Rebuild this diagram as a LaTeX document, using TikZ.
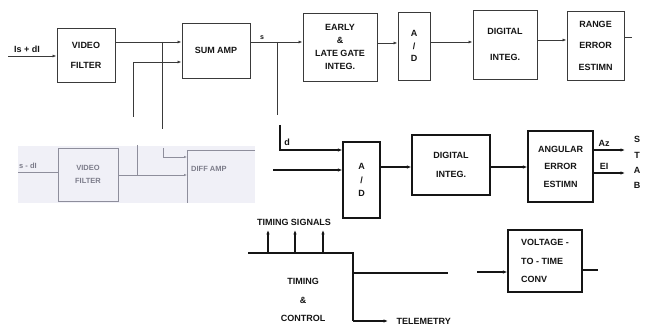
\documentclass[tikz,border=0pt]{standalone}
\usepackage{fontspec}
\setmainfont{Liberation Sans}
\usetikzlibrary{arrows.meta,positioning}
\definecolor{ink}{HTML}{3A3A3A}
\definecolor{inkdark}{HTML}{151515}
\definecolor{ghostline}{HTML}{8E8E9C}
\definecolor{ghosttext}{HTML}{7C7C8A}
\definecolor{ghostbg}{HTML}{F0F0F7}
\tikzset{
  blkbox/.style={
    rectangle, draw=ink, line width=0.9pt, align=center,
    inner sep=1pt, text=inkdark,
    font=\bfseries\fontsize{9}{#1}\selectfont
  },
  blkbox/.default=11,
  darkbox/.style={blkbox=#1, draw=inkdark, line width=1.2pt},
  darkbox/.default=11,
  sigline/.style={draw=ink, line width=0.9pt},
  sigarrow/.style={sigline, -{Latex[length=4pt,width=3pt]}},
  darkline/.style={draw=inkdark, line width=1.2pt},
  darkarrow/.style={darkline, -{Latex[length=4.5pt,width=3.5pt]}},
  tag/.style={inner sep=0.5pt, text=inkdark, font=\bfseries\fontsize{9}{10}\selectfont},
  ghostbox/.style={
    rectangle, draw=ghostline, line width=0.7pt, align=center,
    inner sep=1pt, text=ghosttext,
    font=\bfseries\fontsize{7.5}{#1}\selectfont
  },
  ghostbox/.default=13,
  ghostln/.style={draw=ghostline, line width=0.7pt},
  ghostarrow/.style={ghostln, -{Latex[length=3pt,width=2.5pt]}},
}
\begin{document}
\begin{tikzpicture}[x=1pt, y=-1pt]
  \useasboundingbox (0,0) rectangle (656,328);
  \fill[white] (0,0) rectangle (656,328);

  % range channel
  \node[blkbox=20, minimum width=58, minimum height=54] (vfilt) at (86,55) {VIDEO\\FILTER};
  \node[blkbox, minimum width=68, minimum height=55] (sumamp) at (216,50.5) {SUM AMP};
  \node[blkbox=13.3, minimum width=74, minimum height=68] (gateint) at (340,47) {EARLY\\\&\\LATE GATE\\INTEG.};
  \node[blkbox=12.5, minimum width=32, minimum height=68] (adtop) at (414,46) {A\\/\\D};
  \node[blkbox=26, minimum width=64, minimum height=69] (digtop) at (505,44.5) {DIGITAL\\INTEG.};
  \node[blkbox=21.5, minimum width=57, minimum height=69] (rangeest) at (595.5,45.5) {RANGE\\ERROR\\ESTIMN};

  \node[tag] (isum) at (27,49) {Is + dI};
  \coordinate (isin) at (8,56);
  \draw[sigarrow] (isin) -- (vfilt.west |- isin);
  \foreach \a/\b/\y in {vfilt/sumamp/42,sumamp/gateint/42,gateint/adtop/43,adtop/digtop/42,digtop/rangeest/40}
    \draw[sigarrow] (\a.east |- 0,\y) -- (\b.west |- 0,\y);
  \coordinate (rout) at (632,37);
  \draw[sigline] (rangeest.east |- rout) -- (rout);
  \node[tag, font=\bfseries\fontsize{7}{8}\selectfont] (slabel) at (262,38) {s};

  % taps going down
  \coordinate (difin) at (133,117);
  \draw[sigarrow] (difin) |- (sumamp.west |- 0,62);
  \coordinate (tapa) at (162,42);
  \coordinate (tapb) at (162,129);
  \draw[sigline] (tapa) -- (tapb);
  \coordinate (stapa) at (277,42);
  \coordinate (stapb) at (277,115);
  \draw[sigline] (stapa) -- (stapb);

  % angle channel
  \node[darkbox=13.5, minimum width=37, minimum height=76] (adang) at (361.5,180) {A\\/\\D};
  \node[darkbox=19, minimum width=78, minimum height=60] (digang) at (451,165) {DIGITAL\\INTEG.};
  \node[darkbox=17.5, minimum width=65, minimum height=71] (angest) at (560.5,166.5) {ANGULAR\\ERROR\\ESTIMN};

  \coordinate (dtop) at (280,125);
  \draw[darkarrow] (dtop) |- (adang.west |- 0,150);
  \node[tag] (dlabel) at (287,142) {d};
  \coordinate (ain) at (273,170);
  \draw[darkarrow] (ain) -- (adang.west |- ain);
  \foreach \a/\b in {adang/digang,digang/angest}
    \draw[darkarrow] (\a.east |- 0,167) -- (\b.west |- 0,167);
  \coordinate (azout) at (625,150);
  \coordinate (elout) at (625,173);
  \draw[darkarrow] (angest.east |- azout) -- (azout);
  \draw[darkarrow] (angest.east |- elout) -- (elout);
  \node[tag] (azlabel) at (604,143) {Az};
  \node[tag] (ellabel) at (604,166) {EI};
  \foreach \l/\y in {S/139,T/155,A/170,B/185}
    \node[tag] (stab\l) at (637,\y) {\l};

  % timing and control
  \node[tag] (tsig) at (294,222) {TIMING SIGNALS};
  \node[tag, align=center, font=\bfseries\fontsize{9}{18.5}\selectfont] (tctl) at (303,300) {TIMING\\\&\\CONTROL};
  \coordinate (tcnw) at (248,253);
  \coordinate (tcne) at (353,253);
  \coordinate (tcse) at (353,321);
  \draw[darkline] (tcnw) -- (tcne) -- (tcse);
  \foreach \x in {268,295,323}
    \draw[darkarrow] (tcnw -| \x,0) -- (\x,230);
  \coordinate (tcmid) at (353,273);
  \coordinate (tcout) at (448,273);
  \draw[darkline] (tcmid) -- (tcout);
  \node[tag, anchor=west] (tele) at (396,321) {TELEMETRY};
  \draw[darkarrow] (tcse) -- ([xshift=-8pt]tele.west);

  \node[darkbox=18.5, align=left, minimum width=74, minimum height=62] (vtt) at (545,261) {VOLTAGE -\\TO - TIME\\CONV};
  \coordinate (vin) at (477,272);
  \draw[darkarrow] (vin) -- (vtt.west |- vin);
  \coordinate (vout) at (598,270);
  \draw[darkline] (vtt.east |- vout) -- (vout);

  % pasted-in patch
  \fill[ghostbg] (18,146) rectangle (255,203);
  \node[ghostbox, minimum width=60, minimum height=53] (vfghost) at (88,174.5) {VIDEO\\FILTER};
  \node[anchor=west, inner sep=0pt, text=ghosttext, font=\bfseries\fontsize{7.5}{9}\selectfont] (diffghost) at (191,169) {DIFF AMP};
  \node[anchor=west, inner sep=0pt, text=ghosttext, font=\bfseries\fontsize{7.5}{9}\selectfont] (isghost) at (19,166) {s - dI};
  \coordinate (gin) at (18,172);
  \draw[ghostln] (gin) -- (vfghost.west |- gin);
  \coordinate (dgne) at (255,150);
  \coordinate (dgsw) at (187,203);
  \draw[ghostln] (dgne) -| (dgsw);
  \draw[ghostarrow] (vfghost.east |- 0,175) -- (dgsw |- 0,175);
  \coordinate (gtapa) at (137,145);
  \draw[ghostln] (gtapa) -- (137,175);
  \coordinate (gtapb) at (163,148);
  \draw[ghostarrow] (gtapb) |- (dgsw |- 0,157);
\end{tikzpicture}
\end{document}
